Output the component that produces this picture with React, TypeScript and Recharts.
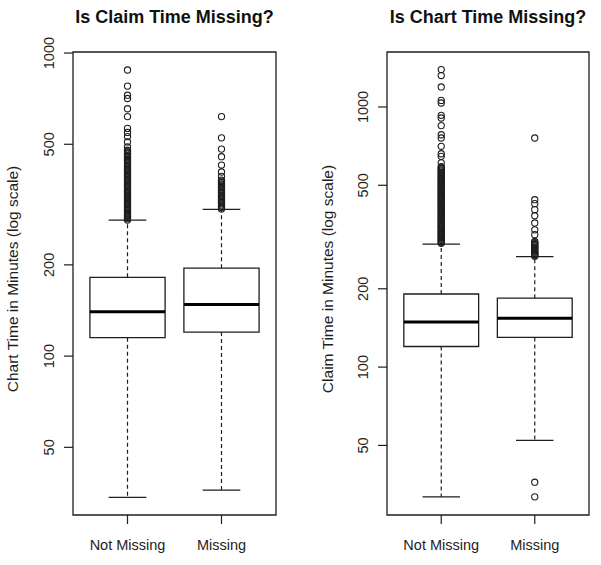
import React from 'react';
import { ComposedChart, XAxis, YAxis, Scatter, ReferenceArea, ReferenceLine } from 'recharts';

const FONT = "'Liberation Sans', Arial, Helvetica, sans-serif";
const INK = '#1e1e1e';

const categories = ['Not Missing', 'Missing'];
const yTicks = [50, 100, 200, 500, 1000];
const xDomain = [0.42, 2.58];

// Left panel: chart time, split by "is claim time missing?"
const chartTimeDomain = [29.9, 1008];
const chartTimeLow = [34.2, 36.1];
const chartTimeQ1 = [115, 120];
const chartTimeMedian = [140, 148];
const chartTimeQ3 = [182, 195];
const chartTimeHigh = [281, 305];
const chartTimeOutNotMissing = [
  281, 284, 286, 289, 291, 294, 296, 299, 302, 304, 307, 310, 313, 316, 319, 322, 325, 328, 331,
  334, 337, 340, 343, 346, 349, 352, 356, 359, 362, 366, 369, 373, 376, 380, 383, 387, 391, 394,
  398, 402, 406, 410, 413, 417, 421, 425, 430, 434, 438, 442, 446, 451, 455, 459, 464, 468, 473,
  478, 490, 509, 530, 547, 564, 617, 655, 708, 726, 778, 879,
];
const chartTimeOutMissing = [
  306, 309, 312, 315, 318, 321, 324, 327, 330, 333, 336, 339, 343, 346, 349, 353, 356, 360, 363,
  367, 370, 374, 378, 381, 392, 405, 427, 455, 482, 525, 617,
];

// Right panel: claim time, split by "is chart time missing?"
const claimTimeDomain = [27.0, 1627];
const claimTimeLow = [31.7, 52.3];
const claimTimeQ1 = [120, 130];
const claimTimeMedian = [149, 154];
const claimTimeQ3 = [191, 184];
const claimTimeHigh = [297, 266];
const claimTimeOutNotMissing = [
  299, 302, 304, 307, 310, 313, 315, 318, 321, 324, 327, 330, 333, 336, 340, 343, 346, 349, 352,
  356, 359, 362, 366, 369, 373, 376, 380, 383, 387, 391, 395, 398, 402, 406, 410, 414, 418, 422,
  426, 430, 434, 438, 442, 446, 451, 455, 459, 464, 468, 473, 477, 482, 486, 491, 496, 500, 505,
  510, 515, 520, 525, 530, 535, 540, 545, 551, 556, 561, 567, 572, 578, 584, 590, 610, 646, 661,
  706, 760, 782, 848, 907, 929, 1036, 1060, 1194, 1321, 1393,
];
const claimTimeOutMissing = [
  31.7, 36.1, 267, 269, 271, 273, 276, 278, 280, 283, 285, 288, 290, 293, 296, 298, 301, 304, 323,
  337, 358, 382, 403, 425, 440, 760,
];

const XTick = (props: any) => {
  const { x, y, payload } = props;
  return (
    <text x={x} y={y + 24} textAnchor="middle" fontFamily={FONT} fontSize={14.5} fill={INK}>
      {categories[Math.round(payload.value) - 1]}
    </text>
  );
};

const YTick = (props: any) => {
  const { x, y, payload } = props;
  const bx = x - 8;
  return (
    <text
      x={bx}
      y={y}
      transform={`rotate(-90 ${bx} ${y})`}
      textAnchor="middle"
      fontFamily={FONT}
      fontSize={14.5}
      fill={INK}
    >
      {payload.value}
    </text>
  );
};

const Circle = (props: any) => {
  const { cx, cy } = props;
  if (cx == null || cy == null) return null;
  return <circle cx={cx} cy={cy} r={3.1} fill="none" stroke={INK} strokeWidth={1.1} />;
};

type PanelProps = {
  left: number;
  width: number;
  yAxisWidth: number;
  rightMargin: number;
  domain: number[];
  low: number[];
  q1: number[];
  med: number[];
  q3: number[];
  high: number[];
  outliers: number[][];
  title: string;
  yLabel: string;
  yLabelX: number;
};

function Panel(p: PanelProps) {
  const H = 565;
  const top = 52;
  const points = p.outliers.flatMap((arr, i) => arr.map((v) => ({ x: i + 1, y: v })));
  const plotLeft = p.yAxisWidth;
  const plotRight = p.width - p.rightMargin;
  const plotCenter = (plotLeft + plotRight) / 2;

  const refs: any[] = [];
  categories.forEach((_, i) => {
    const c = i + 1;
    refs.push(
      <ReferenceArea
        key={`box${i}`}
        x1={c - 0.4}
        x2={c + 0.4}
        y1={p.q1[i]}
        y2={p.q3[i]}
        fill="#fff"
        fillOpacity={0}
        stroke={INK}
        strokeWidth={1.3}
        ifOverflow="visible"
      />
    );
    refs.push(
      <ReferenceLine
        key={`med${i}`}
        segment={[
          { x: c - 0.4, y: p.med[i] },
          { x: c + 0.4, y: p.med[i] },
        ]}
        stroke="#000"
        strokeWidth={3}
        ifOverflow="visible"
      />
    );
    refs.push(
      <ReferenceLine
        key={`wu${i}`}
        segment={[
          { x: c, y: p.q3[i] },
          { x: c, y: p.high[i] },
        ]}
        stroke={INK}
        strokeWidth={1.2}
        strokeDasharray="4 3"
        ifOverflow="visible"
      />
    );
    refs.push(
      <ReferenceLine
        key={`wl${i}`}
        segment={[
          { x: c, y: p.q1[i] },
          { x: c, y: p.low[i] },
        ]}
        stroke={INK}
        strokeWidth={1.2}
        strokeDasharray="4 3"
        ifOverflow="visible"
      />
    );
    refs.push(
      <ReferenceLine
        key={`cu${i}`}
        segment={[
          { x: c - 0.2, y: p.high[i] },
          { x: c + 0.2, y: p.high[i] },
        ]}
        stroke={INK}
        strokeWidth={1.2}
        ifOverflow="visible"
      />
    );
    refs.push(
      <ReferenceLine
        key={`cl${i}`}
        segment={[
          { x: c - 0.2, y: p.low[i] },
          { x: c + 0.2, y: p.low[i] },
        ]}
        stroke={INK}
        strokeWidth={1.2}
        ifOverflow="visible"
      />
    );
  });

  return (
    <div style={{ position: 'absolute', left: p.left, top: 0, width: p.width, height: H }}>
      <ComposedChart
        width={p.width}
        height={H}
        margin={{ top, right: p.rightMargin, left: 0, bottom: 0 }}
      >
        <XAxis
          type="number"
          dataKey="x"
          domain={xDomain}
          allowDataOverflow
          ticks={[1, 2]}
          interval={0}
          axisLine={false}
          tickLine={{ stroke: INK, strokeWidth: 1.2 }}
          tickSize={9}
          height={50}
          tick={XTick}
        />
        <YAxis
          type="number"
          dataKey="y"
          scale="log"
          domain={p.domain}
          allowDataOverflow
          ticks={yTicks}
          interval={0}
          axisLine={false}
          tickLine={{ stroke: INK, strokeWidth: 1.2 }}
          tickSize={9}
          width={p.yAxisWidth}
          tick={YTick}
        />
        <ReferenceArea
          x1={xDomain[0]}
          x2={xDomain[1]}
          y1={p.domain[0]}
          y2={p.domain[1]}
          fill="#fff"
          fillOpacity={0}
          stroke={INK}
          strokeWidth={1.3}
          ifOverflow="visible"
        />
        {refs}
        <Scatter data={points} shape={Circle} isAnimationActive={false} />
      </ComposedChart>
      <svg
        width={p.width}
        height={H}
        style={{ position: 'absolute', left: 0, top: 0, pointerEvents: 'none' }}
      >
        <text
          x={plotCenter}
          y={23}
          textAnchor="middle"
          fontFamily={FONT}
          fontWeight="bold"
          fontSize={18}
          fill="#111"
        >
          {p.title}
        </text>
        <text
          x={p.yLabelX}
          y={279}
          transform={`rotate(-90 ${p.yLabelX} 279)`}
          textAnchor="middle"
          fontFamily={FONT}
          fontSize={15.5}
          fill={INK}
        >
          {p.yLabel}
        </text>
      </svg>
    </div>
  );
}

export default function App() {
  return (
    <div style={{ position: 'absolute', left: 0, top: 0, width: 601, height: 565, background: '#fff' }}>
      <Panel
        left={0}
        width={300}
        yAxisWidth={73}
        rightMargin={24}
        domain={chartTimeDomain}
        low={chartTimeLow}
        q1={chartTimeQ1}
        med={chartTimeMedian}
        q3={chartTimeQ3}
        high={chartTimeHigh}
        outliers={[chartTimeOutNotMissing, chartTimeOutMissing]}
        title="Is Claim Time Missing?"
        yLabel="Chart Time in Minutes (log scale)"
        yLabelX={18}
      />
      <Panel
        left={300}
        width={301}
        yAxisWidth={87}
        rightMargin={12}
        domain={claimTimeDomain}
        low={claimTimeLow}
        q1={claimTimeQ1}
        med={claimTimeMedian}
        q3={claimTimeQ3}
        high={claimTimeHigh}
        outliers={[claimTimeOutNotMissing, claimTimeOutMissing]}
        title="Is Chart Time Missing?"
        yLabel="Claim Time in Minutes (log scale)"
        yLabelX={33}
      />
    </div>
  );
}
